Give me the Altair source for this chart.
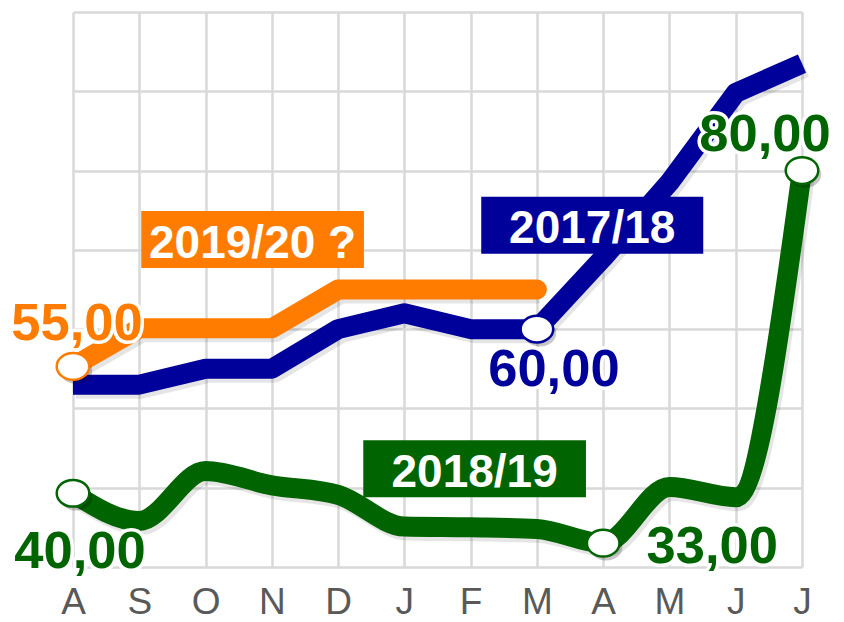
import json
import altair as alt
import pandas as pd

# ---------------- data ----------------
months = ["A", "S", "O", "N", "D", "J", "F", "M", "A", "M", "J", "J"]
s2017 = [53.0, 53.0, 55.0, 55.0, 60.0, 62.0, 60.0, 60.0, 69.0, 78.5, 89.8, 93.5]
s2018 = [39.3, 35.8, 42.1, 40.3, 39.1, 35.1, 35.0, 34.8, 33.0, 40.1, 38.8, 80.0]
s2019 = [55.3, 60.1, 60.1, 60.1, 65.0, 65.0, 65.0, 65.0]

series_names = ["2017/18", "2018/19", "2019/20 ?"]
series_colors = ["#00009A", "#006400", "#FF7C00"]

# name boxes (in data units: month index / value)
box_x1 = [6.16, 4.38, 1.03]
box_x2 = [9.51, 7.74, 4.39]
box_y1 = [69.5, 38.8, 67.7]
box_y2 = [76.7, 46.0, 74.9]

# highlighted points: (series, month index, label)
marker_series = ["2019/20 ?", "2017/18", "2018/19", "2018/19", "2018/19"]
marker_index = [0, 7, 0, 8, 11]
marker_labels = ["55,00", "60,00", "40,00", "33,00", "80,00"]
# label offsets (style) relative to each point
marker_dx = [4, 17, 7, 109, -37]
marker_dy = [-26, 57, 75, 20, -20]

FONT = "Liberation Sans"
GRID = "#D9D9D9"
ELLIPSE = "M -1 0 A 1 0.82 0 1 1 1 0 A 1 0.82 0 1 1 -1 0 Z"

series_values = {"2017/18": s2017, "2018/19": s2018, "2019/20 ?": s2019}
color_of = dict(zip(series_names, series_colors))

label_expr = json.dumps(months) + "[datum.value]"

x_axis = alt.Axis(
    values=list(range(12)), labelExpr=label_expr, grid=True, gridColor=GRID,
    gridWidth=2.5, ticks=False, tickSize=0, domain=False, labelFontSize=37,
    labelColor="#595959", labelFont=FONT, labelPadding=17, labelFlush=False,
    labelOverlap=False, title=None,
)
y_axis = alt.Axis(
    values=list(range(30, 101, 10)), labels=False, ticks=False, tickSize=0,
    domain=False, grid=True, gridColor=GRID, gridWidth=2.5, title=None,
)
x_scale = alt.Scale(domain=[0, 11], nice=False, zero=False)
y_scale = alt.Scale(domain=[30, 100], nice=False, zero=False)


def X(field):
    return alt.X(field, type="quantitative", scale=x_scale, axis=x_axis)


def Y(field):
    return alt.Y(field, type="quantitative", scale=y_scale, axis=y_axis)


def series_df(name):
    vals = series_values[name]
    return pd.DataFrame({"i": list(range(len(vals))), "v": vals})


layers = []

# line shadows
for name in ["2018/19", "2017/18", "2019/20 ?"]:
    interp = "monotone" if name == "2018/19" else "linear"
    layers.append(
        alt.Chart(series_df(name)).mark_line(
            color="black", opacity=0.10, strokeWidth=20, interpolate=interp,
            strokeJoin="round", xOffset=3, yOffset=4,
        ).encode(x=X("i"), y=Y("v"))
    )

# lines
layers.append(
    alt.Chart(series_df("2018/19")).mark_line(
        color=color_of["2018/19"], strokeWidth=20, interpolate="monotone",
        strokeCap="butt", strokeJoin="round",
    ).encode(x=X("i"), y=Y("v"))
)
layers.append(
    alt.Chart(series_df("2017/18")).mark_line(
        color=color_of["2017/18"], strokeWidth=20, strokeCap="butt",
        strokeJoin="round",
    ).encode(x=X("i"), y=Y("v"))
)
layers.append(
    alt.Chart(series_df("2019/20 ?")).mark_line(
        color=color_of["2019/20 ?"], strokeWidth=20, strokeCap="round",
        strokeJoin="round",
    ).encode(x=X("i"), y=Y("v"))
)

# name boxes
box_df = pd.DataFrame({
    "name": series_names, "x1": box_x1, "x2": box_x2,
    "y1": box_y1, "y2": box_y2, "col": series_colors,
})
box_df["xc"] = (box_df["x1"] + box_df["x2"]) / 2
box_df["yc"] = (box_df["y1"] + box_df["y2"]) / 2

layers.append(
    alt.Chart(box_df).mark_rect().encode(
        x=X("x1"), x2="x2", y=Y("y1"), y2="y2",
        color=alt.Color("col:N", scale=None, legend=None),
    )
)
layers.append(
    alt.Chart(box_df).mark_text(
        color="white", font=FONT, fontSize=46, fontWeight="bold",
        align="center", baseline="middle", dy=4,
    ).encode(x=X("xc"), y=Y("yc"), text="name:N")
)

# markers
mk_rows = []
for s, idx, lab in zip(marker_series, marker_index, marker_labels):
    mk_rows.append({"s": s, "i": idx, "v": series_values[s][idx], "lab": lab,
                    "col": color_of[s]})
mk_df = pd.DataFrame(mk_rows)

layers.append(
    alt.Chart(mk_df).mark_point(
        shape=ELLIPSE, size=1060, filled=True, color="black", opacity=0.22,
        xOffset=3, yOffset=4,
    ).encode(x=X("i"), y=Y("v"))
)
layers.append(
    alt.Chart(mk_df).mark_point(
        shape=ELLIPSE, size=1060, filled=True, fill="white", strokeWidth=2.5,
        opacity=1,
    ).encode(
        x=X("i"), y=Y("v"),
        stroke=alt.Stroke("col:N", scale=None, legend=None),
    )
)

# value labels with white halo
for k in range(len(mk_rows)):
    row_df = mk_df.iloc[[k]]
    common = dict(font=FONT, fontSize=52.5, fontWeight="bold", align="center",
                  baseline="alphabetic", dx=marker_dx[k], dy=marker_dy[k])
    layers.append(
        alt.Chart(row_df).mark_text(
            fill="white", stroke="white", strokeWidth=7, strokeJoin="round",
            **common,
        ).encode(x=X("i"), y=Y("v"), text="lab:N")
    )
    layers.append(
        alt.Chart(row_df).mark_text(fill=mk_rows[k]["col"], **common).encode(
            x=X("i"), y=Y("v"), text="lab:N"
        )
    )

chart = alt.layer(*layers).properties(
    width=729,
    height=555,
    autosize=alt.AutoSizeParams(type="none"),
    padding={"left": 65, "top": 4, "right": 34, "bottom": 56},
).configure_view(stroke=None)

chart.save("out.html", embed_options={"renderer": "svg", "actions": False})
